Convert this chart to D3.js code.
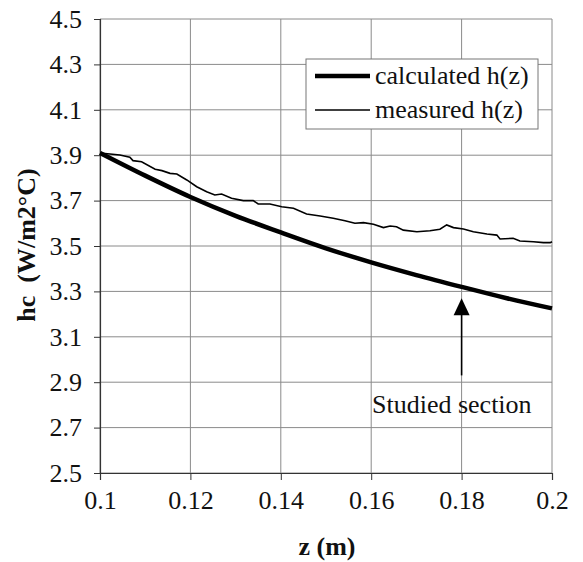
<!DOCTYPE html>
<html><head><meta charset="utf-8">
<script src="https://cdn.jsdelivr.net/npm/d3@7"></script>
<style>body{margin:0;background:#fff}svg{display:block}</style>
</head><body>
<svg id="c" width="583" height="562"></svg>
<script>
const xTicks = [0.1, 0.12, 0.14, 0.16, 0.18, 0.2];
const yTicks = [2.5, 2.7, 2.9, 3.1, 3.3, 3.5, 3.7, 3.9, 4.1, 4.3, 4.5];
const calcZ = [0.1, 0.11, 0.12, 0.13, 0.14, 0.15, 0.16, 0.17, 0.18, 0.19, 0.2];
const calcH = [3.91, 3.81, 3.716, 3.633, 3.56, 3.49, 3.428, 3.372, 3.32, 3.27, 3.225];
const measZ = [0.1, 0.1044, 0.1066, 0.1073, 0.1092, 0.1122, 0.1137, 0.1155, 0.117, 0.1192, 0.1214, 0.1236, 0.1254, 0.1269, 0.1291, 0.1317, 0.1339, 0.135, 0.1376, 0.1402, 0.1428, 0.1457, 0.1487, 0.1516, 0.1542, 0.1564, 0.1583, 0.1605, 0.1627, 0.1642, 0.1656, 0.1671, 0.1701, 0.173, 0.1752, 0.1767, 0.1782, 0.1804, 0.1826, 0.1856, 0.1878, 0.1885, 0.1914, 0.1929, 0.1959, 0.1981, 0.1996, 0.2];
const measH = [3.91, 3.901, 3.891, 3.876, 3.871, 3.838, 3.832, 3.82, 3.817, 3.791, 3.761, 3.739, 3.725, 3.729, 3.71, 3.7, 3.7, 3.685, 3.685, 3.673, 3.666, 3.641, 3.632, 3.622, 3.611, 3.6, 3.603, 3.596, 3.581, 3.588, 3.585, 3.57, 3.563, 3.567, 3.574, 3.593, 3.581, 3.575, 3.563, 3.553, 3.548, 3.531, 3.534, 3.522, 3.519, 3.515, 3.515, 3.519];
const seriesNames = ["calculated h(z)", "measured h(z)"];
const xTitle = "z (m)";
const yTitle = "hc\u00a0\u00a0(W/m2°C)";
const noteZ = 0.18, noteFromH = 2.93, noteToH = 3.27, noteTextH = 2.764, noteText = "Studied section";

const FONT = '"Liberation Serif"';
const FS = 26;
const svg = d3.select("#c");
const L = 100, R = 552, T = 19, B = 473;
const x = d3.scaleLinear().domain([0.1, 0.2]).range([L, R]);
const y = d3.scaleLinear().domain([2.5, 4.5]).range([B, T]);
const styleText = (sel, bold) => sel.style("font-family", FONT).style("font-size", FS + "px")
  .style("font-weight", bold ? "bold" : "normal").attr("fill", "#111");

// grid
svg.append("g").selectAll("line").data(yTicks).join("line")
  .attr("x1", L).attr("x2", R).attr("y1", d => y(d)).attr("y2", d => y(d))
  .attr("stroke", "#8a8a8a").attr("stroke-width", 1);
svg.append("g").selectAll("line").data(xTicks).join("line")
  .attr("y1", T).attr("y2", B).attr("x1", d => x(d)).attr("x2", d => x(d))
  .attr("stroke", "#8a8a8a").attr("stroke-width", 1);

// axes
const ax = svg.append("g").attr("transform", `translate(0,${B})`)
  .call(d3.axisBottom(x).tickValues(xTicks).tickFormat(d => String(+d.toFixed(2))).tickSize(7).tickPadding(11));
const ay = svg.append("g").attr("transform", `translate(${L},0)`)
  .call(d3.axisLeft(y).tickValues(yTicks).tickFormat(d3.format(".1f")).tickSize(6).tickPadding(12));
[ax, ay].forEach(g => {
  g.select(".domain").attr("stroke", "#333").attr("stroke-width", 1.2);
  g.selectAll(".tick line").attr("stroke", "#333");
  styleText(g.selectAll("text"), false);
});

// lines
svg.append("path").datum(calcZ.map((z, i) => [z, calcH[i]]))
  .attr("d", d3.line().x(d => x(d[0])).y(d => y(d[1])).curve(d3.curveMonotoneX))
  .attr("fill", "none").attr("stroke", "#000").attr("stroke-width", 4.5);
svg.append("path").datum(measZ.map((z, i) => [z, measH[i]]))
  .attr("d", d3.line().x(d => x(d[0])).y(d => y(d[1])))
  .attr("fill", "none").attr("stroke", "#000").attr("stroke-width", 1.6);

// legend
const lg = svg.append("g");
lg.append("rect").attr("x", 306).attr("y", 59).attr("width", 232).attr("height", 70)
  .attr("fill", "#fff").attr("stroke", "#777").attr("stroke-width", 1);
[4.5, 1.6].forEach((w, i) => {
  const yy = 76 + i * 34;
  lg.append("line").attr("x1", 315).attr("x2", 370).attr("y1", yy).attr("y2", yy).attr("stroke", "#000").attr("stroke-width", w);
  styleText(lg.append("text").attr("x", 375).attr("y", yy + 8).text(seriesNames[i]), false);
});

// annotation
svg.append("line").attr("x1", x(noteZ)).attr("x2", x(noteZ)).attr("y1", y(noteFromH)).attr("y2", y(noteToH) + 16)
  .attr("stroke", "#000").attr("stroke-width", 1.6);
svg.append("path").attr("d", `M${x(noteZ)},${y(noteToH)} l-8,17 l16,0 z`).attr("fill", "#000");
styleText(svg.append("text").attr("x", 372).attr("y", y(noteTextH)).text(noteText), false);

// titles
styleText(svg.append("text").attr("x", 327).attr("y", 555).attr("text-anchor", "middle").text(xTitle), true);
styleText(svg.append("text").attr("transform", `translate(35,245) rotate(-90)`).attr("text-anchor", "middle").text(yTitle), true);
</script>
</body></html>
